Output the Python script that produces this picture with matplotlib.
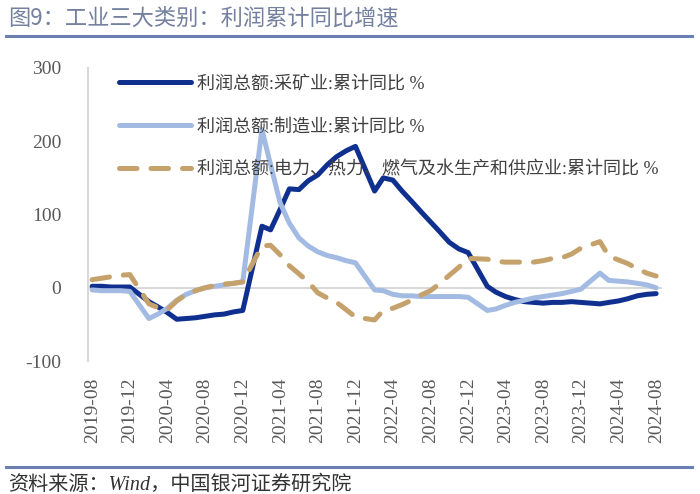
import pandas as pd
import matplotlib
matplotlib.use("Agg")
import matplotlib.pyplot as plt
import matplotlib.dates as mdates

plt.rcParams['font.family'] = ['Liberation Serif', 'Noto Sans CJK SC']
plt.rcParams['axes.unicode_minus'] = False

# Monthly cumulative YoY (%), Jan is merged into Feb so there is no January point
months = [d for d in pd.date_range('2019-08-01', '2024-08-01', freq='MS') if d.month != 1]

mining = [2, 2, 1, 1, 1,
          -19, -26, -34, -43, -42, -41, -39, -37, -36, -33, -31,
          84, 79, 107, 135, 134, 146, 154, 168, 179, 187, 193,
          132, 150, 147, 132, 118, 104, 90, 76, 62, 53, 48,
          2, -6, -12, -16, -19, -20, -21, -20, -20, -19, -20,
          -22, -20, -18, -15, -11, -9, -8]

manufacturing = [-3, -4, -4, -4, -5,
                 -42, -36, -28, -17, -9, -4, 0, 2, 4, 6, 8,
                 216, 168, 116, 88, 68, 57, 49, 44, 41, 37, 34,
                 -3, -4, -9, -11, -11, -12, -12, -12, -12, -12, -13,
                 -31, -29, -24, -20, -17, -14, -12, -10, -8, -5, -2,
                 20, 10, 9, 8, 6, 4, 0]

utilities = [11, 13, 15, 17, 18,
             -22, -27, -30, -18, -9, -4, 0, 3, 5, 6, 8,
             57, 58, 45, 30, 19, 8, -7, -14, -20, -30, -40,
             -44, -31, -28, -23, -17, -10, -4, 6, 17, 28, 40,
             39, 36, 35, 35, 35, 35, 37, 40, 41, 46, 54,
             63, 43, 38, 33, 26, 20, 16]

labels = ['利润总额:采矿业:累计同比 %',
          '利润总额:制造业:累计同比 %',
          '利润总额:电力、热力、燃气及水生产和供应业:累计同比 %']

fig = plt.figure(figsize=(7, 4.94), dpi=100)
ax = fig.add_axes([87.5 / 700, (494 - 361) / 494, (662 - 87.5) / 700, (361 - 68) / 494])

ax.axhline(0, color='#d9d9d9', lw=1.5, zorder=1)
ax.plot(months, mining, color='#10308f', lw=3.6, solid_capstyle='round', label=labels[0], zorder=2)
ax.plot(months, manufacturing, color='#a3bbe3', lw=3.6, solid_capstyle='round', label=labels[1], zorder=3)
ax.plot(months, utilities, color='#c5a26c', lw=3.6, dashes=(3.5, 2.8), dash_capstyle='round',
        label=labels[2], zorder=4)

ax.set_ylim(-100, 300)
ax.set_yticks([-100, 0, 100, 200, 300])
ax.set_xlim(pd.Timestamp('2019-07-17'), pd.Timestamp('2024-08-20'))
ticks = pd.date_range('2019-08-01', '2024-08-01', freq='4MS')
ax.set_xticks(ticks)
ax.xaxis.set_major_formatter(mdates.DateFormatter('%Y-%m'))
ax.tick_params(axis='x', rotation=90, length=0, labelsize=14, colors='#595959', pad=12)
ax.tick_params(axis='y', length=0, labelsize=14, colors='#595959', pad=19)

for s in ['top', 'right', 'bottom']:
    ax.spines[s].set_visible(False)
ax.spines['left'].set_color('#d9d9d9')
ax.spines['left'].set_linewidth(1.5)

leg = ax.legend(loc='upper left', bbox_to_anchor=(0.026, 1.03), frameon=False,
                fontsize=13, handlelength=4.0, handletextpad=0.33, labelspacing=1.42)
for t in leg.get_texts():
    t.set_color('#404040')

fig.text(0.012, 0.963, '图9：工业三大类别：利润累计同比增速', fontsize=16, color='#74809f',
         family=['Noto Sans CJK SC'], va='center')
fig.add_artist(plt.Line2D([0.009, 0.989], [0.927, 0.927], color='#6b7fb3', lw=2.2))
fig.add_artist(plt.Line2D([0.009, 0.989], [0.055, 0.055], color='#6b7fb3', lw=2.2))
fig.text(0.012, 0.018, '资料来源：Wind，中国银河证券研究院', fontsize=14.5, color='#333333',
         style='italic', va='center')

fig.savefig('out.png', dpi=100)
